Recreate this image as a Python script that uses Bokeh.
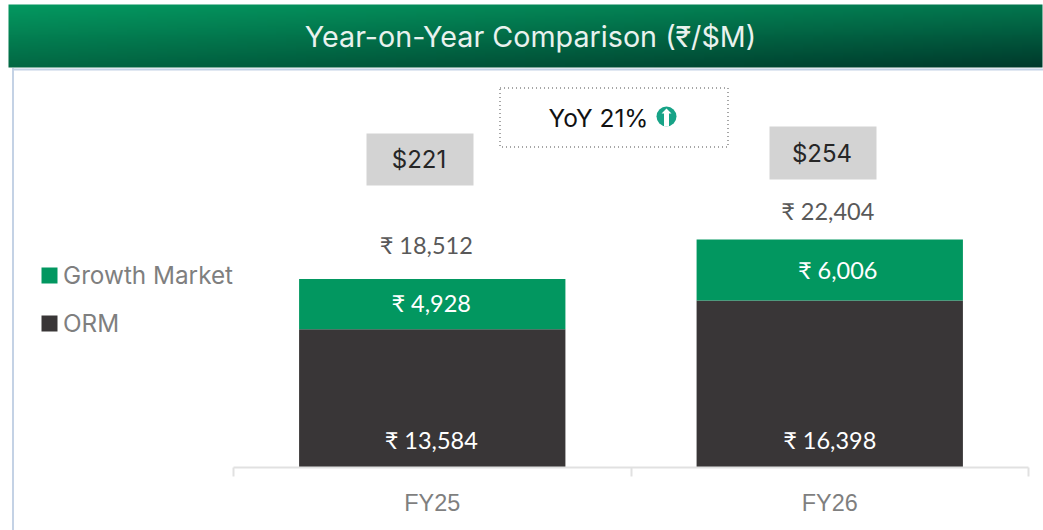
import numpy as np
from bokeh.plotting import figure
from bokeh.models import (Range1d, LinearAxis, FixedTicker, Legend, LegendItem, BoxAnnotation)
from bokeh.core.properties import value
from bokeh.embed import file_html
from bokeh.resources import INLINE

TITLE = "Year-on-Year Comparison (₹/$M)"
years = ["FY25", "FY26"]
orm = [13584, 16398]
growth = [4928, 6006]
totals = [18512, 22404]
usd = ["$221", "$254"]
yoy = "YoY 21%"

GREEN = "#029760"
DARK = "#393637"
FONT = "Inter"
LFONT = "Lato"

def rupee(v):
    return f"₹ {v:,}"

PX_PER_UNIT = 0.01018
CAT_W = 397.5
W, H = 1043, 530

p = figure(width=W, height=H,
           x_range=Range1d(-233 / CAT_W, (W - 233) / CAT_W),
           y_range=Range1d(0, 467 / PX_PER_UNIT),
           toolbar_location=None, output_backend="svg",
           min_border_left=0, min_border_right=0, min_border_top=0, min_border_bottom=63,
           x_axis_location=None, y_axis_location=None, outline_line_color=None,
           background_fill_color=None, border_fill_color=None, margin=(0, 0, 0, 0))
p.styles = {"background": "linear-gradient(#c4d2e5,#c4d2e5) 12px 68px / 2px 100% no-repeat"}
p.grid.visible = False
xc = [i + 0.5 for i in range(len(years))]

# window-pixel coordinates for the decorations around the bars
p.extra_x_ranges["px"] = Range1d(1, 1 + W)
p.extra_y_ranges["py"] = Range1d(468, 1)
p.extra_y_ranges["up"] = Range1d(-468, -1)

# header band with gradient
ny, nx = 32, 104
u = np.linspace(0, 1, nx)[None, :, None]
v = np.linspace(1, 0, ny)[:, None, None]
tl, tr = np.array([4, 152, 96.]), np.array([3, 118, 78.])
bl, br = np.array([2, 104, 68.]), np.array([0, 58, 44.])
rgb = (1 - v) * ((1 - u) * tl + u * tr) + v * ((1 - u) * bl + u * br)
img = np.zeros((ny, nx), dtype=np.uint32)
view = img.view(dtype=np.uint8).reshape((ny, nx, 4))
view[..., :3] = rgb.astype(np.uint8)
view[..., 3] = 255
p.image_rgba(image=[img], x=9, y=-68, dw=1034, dh=63, x_range_name="px", y_range_name="up")
p.text(x=[531], y=[36.5], text=[TITLE], text_color="#e9f2ee", text_font=value(FONT),
       text_font_size="28.7px", text_align="center", text_baseline="middle",
       x_range_name="px", y_range_name="py")

bars = p.vbar_stack(["orm", "growth"], x="x", width=0.67, color=[DARK, GREEN],
                    line_color=None, source=dict(x=xc, orm=orm, growth=growth))

# axis line + ticks between categories
tick_axis = LinearAxis(ticker=FixedTicker(ticks=[0, 1, 2]), bounds=(0, 2),
                       major_label_overrides={0: "", 1: "", 2: ""},
                       major_label_text_font_size="1px", major_label_standoff=0,
                       major_tick_in=0, major_tick_out=9, minor_tick_line_color=None,
                       axis_line_color="#e1e1e1", axis_line_width=2,
                       major_tick_line_color="#e1e1e1", major_tick_line_width=2)
p.add_layout(tick_axis, "below")
cat_axis = LinearAxis(ticker=FixedTicker(ticks=xc),
                      major_label_overrides={c: y for c, y in zip(xc, years)},
                      axis_line_color=None, major_tick_line_color=None,
                      minor_tick_line_color=None, major_label_standoff=7,
                      major_label_text_font="Liberation Sans",
                      major_label_text_font_size="23.4px",
                      major_label_text_color="#7f7f7f")
p.add_layout(cat_axis, "below")

# value labels
orm_y = [28 / PX_PER_UNIT] * 2
grow_y = [o + g / 2 for o, g in zip(orm, growth)]
total_y = [t + off / PX_PER_UNIT for t, off in zip(totals, [34, 28])]
for ys, vals, col, dx, dy in [(orm_y, orm, "white", [-1, 0], [0, 0]),
                              (grow_y, growth, "white", [-1, 8], [-1, 0]),
                              (total_y, totals, "#595959", [-6, -2], [0, 0])]:
    p.text(x=xc, y=ys, text=[rupee(v) for v in vals], text_color=col, text_font=value(LFONT),
           text_font_size="23.5px", text_align="center", text_baseline="middle",
           x_offset=dx, y_offset=dy)

# USD boxes
bx = [420.5, 823.5]
by = [160, 153.5]
p.rect(x=bx, y=by, width=107, height=[52, 53], fill_color="#d3d3d3", line_color=None,
       x_range_name="px", y_range_name="py")
p.text(x=bx, y=by, text=usd, text_color="#262626", text_font=value(FONT), text_font_size="24px",
       text_align="center", text_baseline="middle", x_range_name="px", y_range_name="py", x_offset=-1)

# YoY box
p.rect(x=[614.5], y=[118], width=228, height=59, fill_color=None, line_color="#a6a6a6",
       line_width=2, line_dash="1 3", x_range_name="px", y_range_name="py")
p.text(x=[599], y=[118], text=[yoy], text_color="#111111", text_font=value(FONT), text_font_size="24.5px",
       text_align="center", text_baseline="middle", x_range_name="px", y_range_name="py")
p.scatter(x=[667], y=[117], size=20, marker="circle", fill_color="#17a387", line_color=None,
          x_range_name="px", y_range_name="py")
p.patch(x=[667, 672, 669.5, 669.5, 664.5, 664.5, 662], y=[109, 114, 114, 127, 127, 114, 114],
        fill_color="white", line_color=None, x_range_name="px", y_range_name="py")

# legend
legend = Legend(items=[LegendItem(label="Growth Market", renderers=[bars[1]]),
                       LegendItem(label="ORM", renderers=[bars[0]])],
                location=(39, 128), orientation="vertical", background_fill_alpha=0,
                border_line_color=None, glyph_width=20, glyph_height=20, label_standoff=4,
                spacing=16, padding=0, margin=0, label_text_font=FONT, label_text_font_size="24.3px",
                label_text_color="#7f7f7f", label_height=32)
p.add_layout(legend, "center")

# blue frame line on top
p.add_layout(BoxAnnotation(left=13, right=1044, top=69, bottom=71, x_range_name="px", y_range_name="py",
                           fill_color="#c4d2e5", fill_alpha=1, line_color=None))

open("out.html", "w").write(file_html(p, INLINE))
